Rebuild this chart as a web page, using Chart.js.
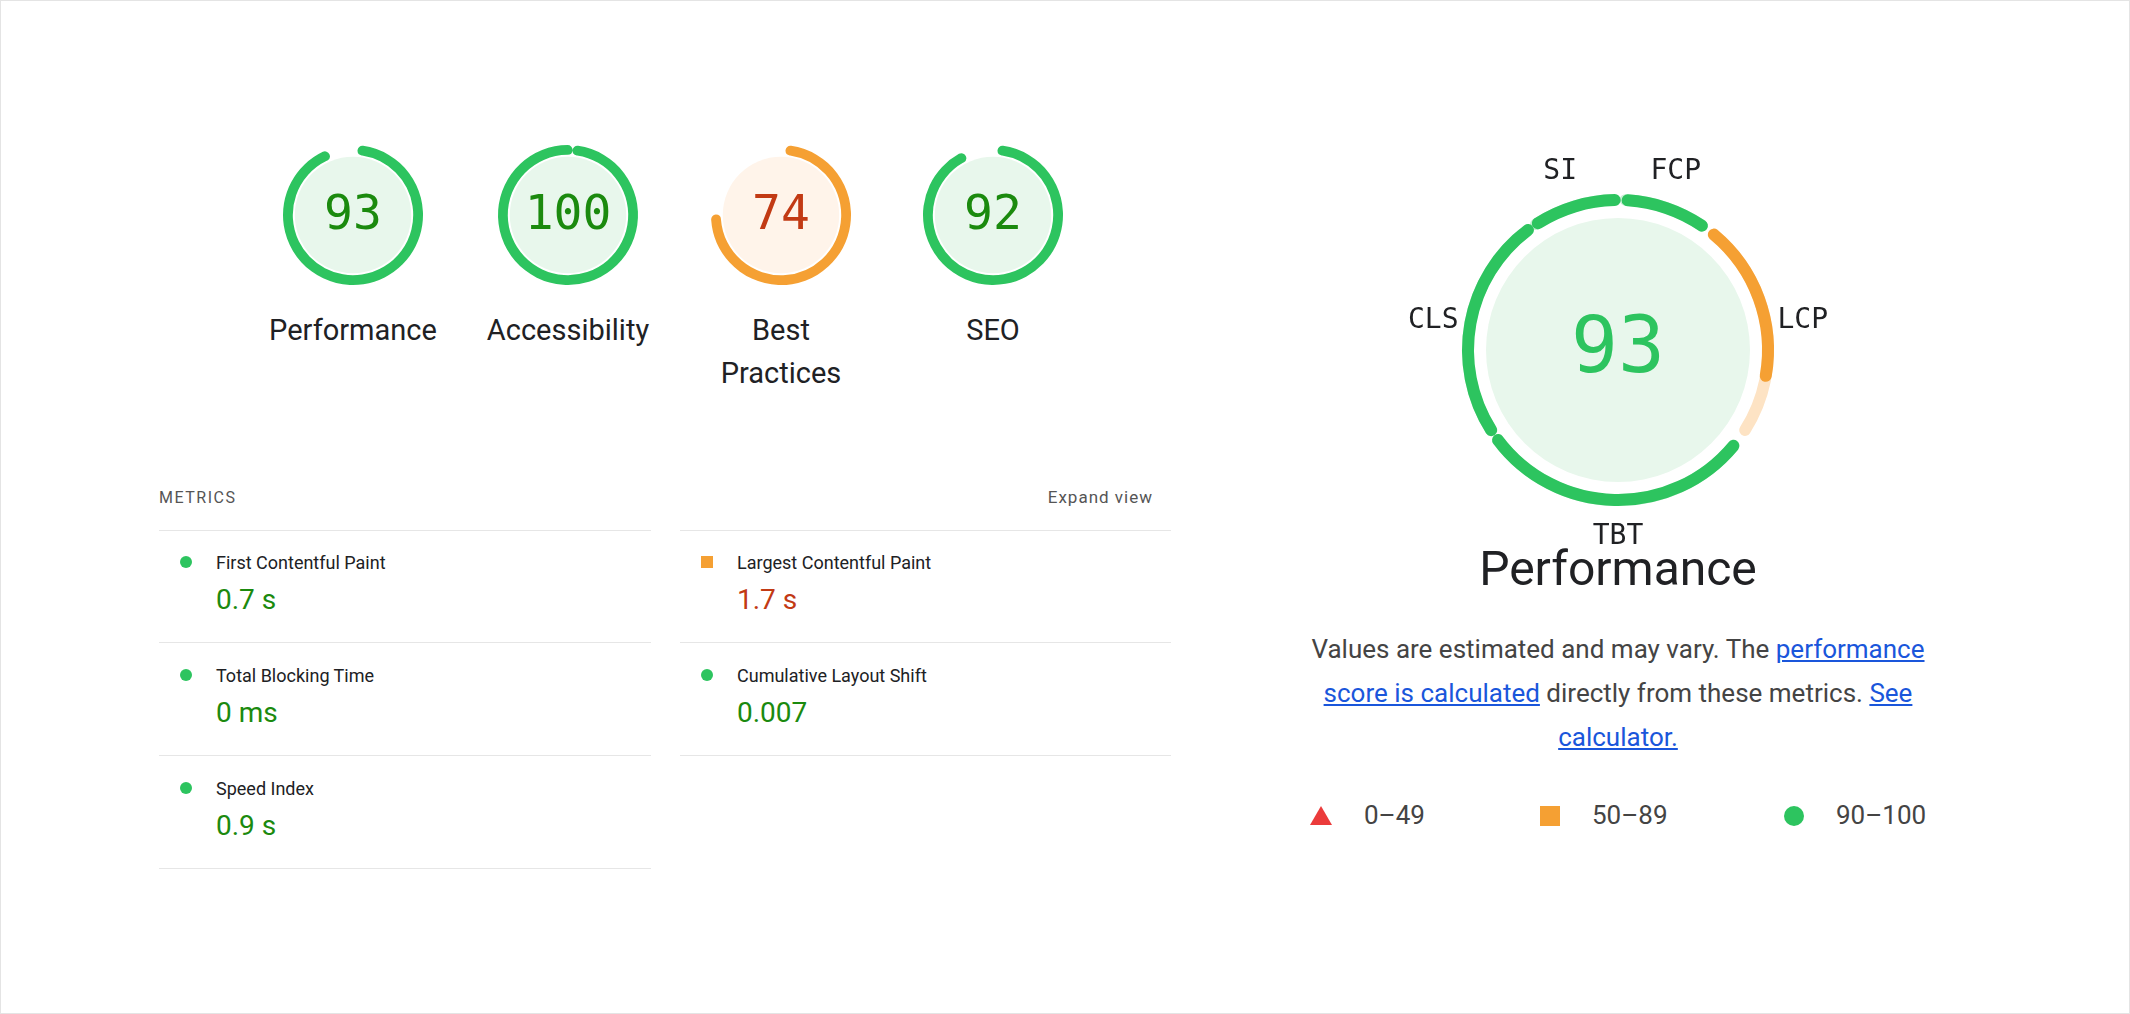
<!DOCTYPE html>
<html><head><meta charset="utf-8">
<script src="https://cdn.jsdelivr.net/npm/chart.js@4"></script>
<style>
html,body{margin:0;padding:0;background:#fff;}
body{width:2130px;height:1014px;position:relative;overflow:hidden;font-family:Roboto,"Noto Sans",sans-serif;color:#202124;}
#frame{position:absolute;left:0;top:0;width:2128px;height:1012px;border:1px solid #e4e4e4;}
.g{position:absolute;width:160px;height:160px;}
.glabel{position:absolute;width:220px;text-align:center;font-size:29px;line-height:43px;color:#202124;}
.abs{position:absolute;}
.hr{position:absolute;height:1px;background:#e6e6e6;}
.mlabel{position:absolute;font-size:18px;color:#202124;}
.mval{position:absolute;font-size:28px;}
.dot{position:absolute;width:12px;height:12px;border-radius:6px;background:#2dc45f;}
.sq{position:absolute;width:12px;height:12px;background:#f5a033;}
a{color:#1a56db;text-decoration:underline;}
</style></head><body>
<div id="frame"></div>
<div id="smalls"></div>
<div class="abs" style="left:1408px;top:140px;width:420px;height:420px;"><canvas id="bigBg" width="420" height="420"></canvas></div>
<div class="abs" style="left:1408px;top:140px;width:420px;height:420px;"><canvas id="bigFg" width="420" height="420"></canvas></div>
<div class="abs" style="left:1318px;top:540px;width:600px;text-align:center;font-size:48px;color:#202124;">Performance</div>
<div class="abs" style="left:1278px;top:627px;width:680px;text-align:center;font-size:26px;line-height:44px;color:#444;">Values are estimated and may vary. The <a>performance score is calculated</a> directly from these metrics. <a>See calculator.</a></div>
<div class="abs" style="left:1310px;top:806px;width:0;height:0;border-left:11px solid transparent;border-right:11px solid transparent;border-bottom:19px solid #eb3b3b;"></div>
<div class="abs" style="left:1364px;top:800px;font-size:26px;color:#444;">0–49</div>
<div class="abs" style="left:1540px;top:806px;width:20px;height:20px;background:#f5a033;"></div>
<div class="abs" style="left:1592px;top:800px;font-size:26px;color:#444;">50–89</div>
<div class="abs" style="left:1784px;top:806px;width:20px;height:20px;border-radius:10px;background:#2dc45f;"></div>
<div class="abs" style="left:1836px;top:800px;font-size:26px;color:#444;">90–100</div>
<div id="metrics"></div>
<script>
const categoryNames = ["Performance","Accessibility","Best Practices","SEO"];
const categoryScores = [93,100,74,92];
const metricShort = ["FCP","LCP","TBT","CLS","SI"];
const metricNames = ["First Contentful Paint","Largest Contentful Paint","Total Blocking Time","Cumulative Layout Shift","Speed Index"];
const metricValues = ["0.7 s","1.7 s","0 ms","0.007","0.9 s"];
const metricWeights = [10,25,30,25,10];
const metricScores = [0.97,0.72,1.0,1.0,0.99];
const overallScore = 93;

const GREEN="#2dc45f", GREEN_L="#c9efd5", GREEN_FILL="#e8f7ec", GREEN_TXT="#1b8a0e";
const ORANGE="#f5a033", ORANGE_L="#fde3c4", ORANGE_FILL="#fff4ea", ORANGE_TXT="#c23a14";
function band(s){return s>=90?'g':'o';}

// small gauges
const centersX=[353,568,781,993];
const smalls=document.getElementById('smalls');
categoryScores.forEach((sc,i)=>{
  const d=document.createElement('div');d.className='g';
  d.style.left=(centersX[i]-80)+'px';d.style.top='135px';
  const c=document.createElement('canvas');c.width=160;c.height=160;d.appendChild(c);smalls.appendChild(d);
  const lab=document.createElement('div');lab.className='glabel';
  lab.style.left=(centersX[i]-110)+'px';lab.style.top='309px';
  lab.innerHTML=categoryNames[i].replace(' ','<br>');smalls.appendChild(lab);
  const b=band(sc);
  const fill=b==='g'?GREEN_FILL:ORANGE_FILL, col=b==='g'?GREEN:ORANGE, txt=b==='g'?GREEN_TXT:ORANGE_TXT;
  new Chart(c,{type:'doughnut',
    data:{labels:['score','rest'],datasets:[{data:[sc,100-sc],backgroundColor:[col,'rgba(0,0,0,0)'],borderWidth:0,borderRadius:[6,0]}]},
    options:{responsive:false,animation:false,devicePixelRatio:1,rotation:4,cutout:'86%',layout:{padding:10},
      plugins:{legend:{display:false},tooltip:{enabled:false}}},
    plugins:[{id:'bgc',beforeDatasetsDraw(ch){const a=ch.getDatasetMeta(0).data[0];const x=ch.ctx;
        x.save();x.fillStyle=fill;x.beginPath();x.arc(a.x,a.y,a.innerRadius-2,0,Math.PI*2);x.fill();x.restore();},
      afterDatasetsDraw(ch){const a=ch.getDatasetMeta(0).data[0];const x=ch.ctx;x.save();
        x.fillStyle=txt;x.font='48px "DejaVu Sans Mono", monospace';x.textAlign='center';x.textBaseline='middle';
        x.fillText(String(sc),a.x,a.y+2);x.restore();}}]
  });
});

// big gauge
const bgColors=metricScores.map(s=>s>=0.9?GREEN_L:ORANGE_L);
const fgColors=metricScores.map(s=>s>=0.9?GREEN:ORANGE);
const commonOpts={responsive:false,animation:false,devicePixelRatio:1,rotation:0,cutout:'92.3%',layout:{padding:54},
  plugins:{legend:{display:false},tooltip:{enabled:false}}};
new Chart(document.getElementById('bigBg'),{type:'doughnut',
  data:{labels:metricShort,datasets:[{data:metricWeights,backgroundColor:bgColors,borderWidth:0,borderRadius:6,spacing:10}]},
  options:commonOpts,
  plugins:[{id:'fillc',beforeDatasetsDraw(ch){const a=ch.getDatasetMeta(0).data[0];const x=ch.ctx;
      x.save();x.fillStyle=GREEN_FILL;x.beginPath();x.arc(a.x,a.y,132,0,Math.PI*2);x.fill();x.restore();},
    afterDatasetsDraw(ch){const meta=ch.getDatasetMeta(0);const x=ch.ctx;x.save();
      x.fillStyle='#202124';x.font='28px "DejaVu Sans Mono", monospace';x.textAlign='center';x.textBaseline='middle';
      meta.data.forEach((a,i)=>{const m=(a.startAngle+a.endAngle)/2;const r=a.outerRadius+36;
        x.fillText(metricShort[i],a.x+Math.cos(m)*r,a.y+Math.sin(m)*r);});
      x.fillStyle=GREEN;x.font='78px "DejaVu Sans Mono", monospace';
      x.fillText(String(overallScore),meta.data[0].x,meta.data[0].y+2);x.restore();}}]
});
const fgData=[],fgCols=[],fgRad=[];
metricWeights.forEach((w,i)=>{fgData.push(w*metricScores[i]);fgCols.push(fgColors[i]);fgRad.push(6);
  fgData.push(w*(1-metricScores[i]));fgCols.push('rgba(0,0,0,0)');fgRad.push(0);});
new Chart(document.getElementById('bigFg'),{type:'doughnut',
  data:{datasets:[{data:fgData,backgroundColor:fgCols,borderWidth:0,borderRadius:fgRad,spacing:0}]},
  options:Object.assign({},commonOpts,{rotation:1.4}),
});
// workaround: fg spacing emulated via small rotation offset handled above

// metrics list
const M=document.getElementById('metrics');
function add(html){M.insertAdjacentHTML('beforeend',html);}
add('<div class="abs" style="left:159px;top:488px;font-size:16px;letter-spacing:1.5px;color:#555;">METRICS</div>');
add('<div class="abs" style="left:1000px;width:153px;text-align:right;top:487px;font-size:17px;letter-spacing:1px;color:#555;">Expand view</div>');
[530,642,755,868].forEach((y,k)=>{add('<div class="hr" style="left:159px;width:492px;top:'+y+'px"></div>');
  if(k<3)add('<div class="hr" style="left:680px;width:491px;top:'+y+'px"></div>');});
const order=[[0,0,0],[1,1,0],[2,0,1],[3,1,1],[4,0,2]];
order.forEach(([mi,col,row])=>{
  const x=col?680:159, y=530+row*113;
  const s=metricScores[mi]; const good=s>=0.9;
  add('<div class="'+(good?'dot':'sq')+'" style="left:'+(x+21)+'px;top:'+(y+26)+'px"></div>');
  add('<div class="mlabel" style="left:'+(x+57)+'px;top:'+(y+22)+'px">'+metricNames[mi]+'</div>');
  add('<div class="mval" style="left:'+(x+57)+'px;top:'+(y+53)+'px;color:'+(good?GREEN_TXT:ORANGE_TXT)+'">'+metricValues[mi]+'</div>');
});
</script>
</body></html>
